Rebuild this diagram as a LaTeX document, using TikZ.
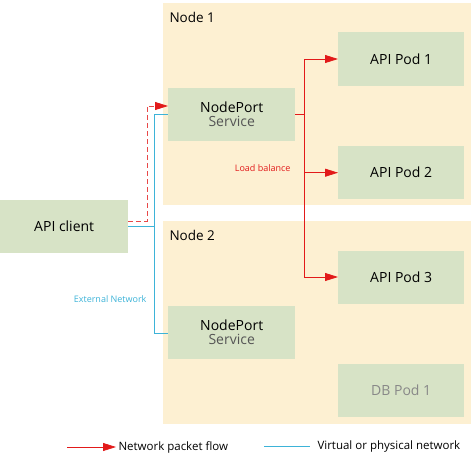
\documentclass[tikz,border=0pt]{standalone}
\usepackage{fontspec}
\setmainfont{Open Sans}
\usetikzlibrary{arrows.meta}
\definecolor{beige}{HTML}{FDF0D2}
\definecolor{boxgreen}{HTML}{D7E3C6}
\definecolor{flowred}{HTML}{E21A1A}
\definecolor{netblue}{HTML}{3DB3D8}
\definecolor{labelgray}{HTML}{555555}
\definecolor{dbgray}{HTML}{888888}
\tikzset{
  hostbox/.style={fill=beige, draw=none, anchor=north west},
  podbox/.style={fill=boxgreen, draw=none, anchor=north west, font=\fontsize{14}{16}\selectfont},
  flow/.style={draw=flowred, line width=0.8pt, -{Triangle[length=13pt,width=8pt]}},
  net/.style={draw=netblue, line width=1pt},
  hosttitle/.style={anchor=west, font=\fontsize{13.5}{16}\selectfont},
  smalllabel/.style={font=\fontsize{9}{10}\selectfont},
  legendtext/.style={anchor=west, font=\fontsize{11.5}{13}\selectfont}
}
\begin{document}
\begin{tikzpicture}[x=1pt,y=-1pt]
\useasboundingbox (0,0) rectangle (471,464);
% host boxes
\node[hostbox, minimum width=308pt, minimum height=202pt, inner sep=0] (n1) at (163,3) {};
\node[hostbox, minimum width=308pt, minimum height=203pt, inner sep=0] (n2) at (163,221) {};
\node[hosttitle] (n1t) at (166,17) {Node 1};
\node[hosttitle] (n2t) at (166,235) {Node 2};
% boxes
\node[podbox, minimum width=128pt, minimum height=53pt, inner sep=0] (client) at (0,200) {API client};
\node[podbox, minimum width=127pt, minimum height=53pt, inner sep=0, align=center] (svc1) at (168,88) {NodePort\\[-2pt]{\color{labelgray}Service}};
\node[podbox, minimum width=127pt, minimum height=53pt, inner sep=0, align=center] (svc2) at (168,306) {NodePort\\[-2pt]{\color{labelgray}Service}};
\node[podbox, minimum width=126pt, minimum height=54pt, inner sep=0] (pod1) at (338,32) {API Pod 1};
\node[podbox, minimum width=126pt, minimum height=53pt, inner sep=0] (pod2) at (338,146) {API Pod 2};
\node[podbox, minimum width=126pt, minimum height=53pt, inner sep=0] (pod3) at (338,251) {API Pod 3};
\node[podbox, minimum width=126pt, minimum height=53pt, inner sep=0, text=dbgray] (db1) at (338,364) {DB Pod 1};
% coordinates
\coordinate (tree) at (304,114);
% blue network
\draw[net] (client.east |- 0,226) -| (154,114) -- (svc1.west |- 0,114);
\draw[net] (154,226) |- (svc2.west |- 0,333);
% red dashed flow
\draw[draw=flowred!80!white, line width=0.9pt, dash pattern=on 5pt off 3pt] (client.east |- 0,221) -| (147,106) -- (156,106);
\draw[flow] (155,106) -- (svc1.west |- 0,106);
% load balance
\draw[draw=flowred, line width=0.8pt] (svc1.east |- 0,114) -- (tree);
\draw[flow] (tree) |- (pod1.west |- 0,59);
\draw[flow] (tree) |- (pod2.west);
\draw[flow] (tree) |- (pod3.west |- 0,277);
% labels
\node[smalllabel, text=flowred, anchor=east] (lb) at (294,168) {Load balance};
\node[smalllabel, text=netblue, anchor=east] (ext) at (150,299) {External Network};
% legend
\coordinate (la) at (67,447);
\coordinate (lb2) at (116,447);
\draw[flow] (la) -- (lb2);
\node[legendtext] (lt1) at (115,447) {Network packet flow};
\coordinate (lc) at (264,446.5);
\coordinate (ld) at (310,446.5);
\draw[net] (lc) -- (ld);
\node[legendtext] (lt2) at (314,447) {Virtual or physical network};
\end{tikzpicture}
\end{document}
